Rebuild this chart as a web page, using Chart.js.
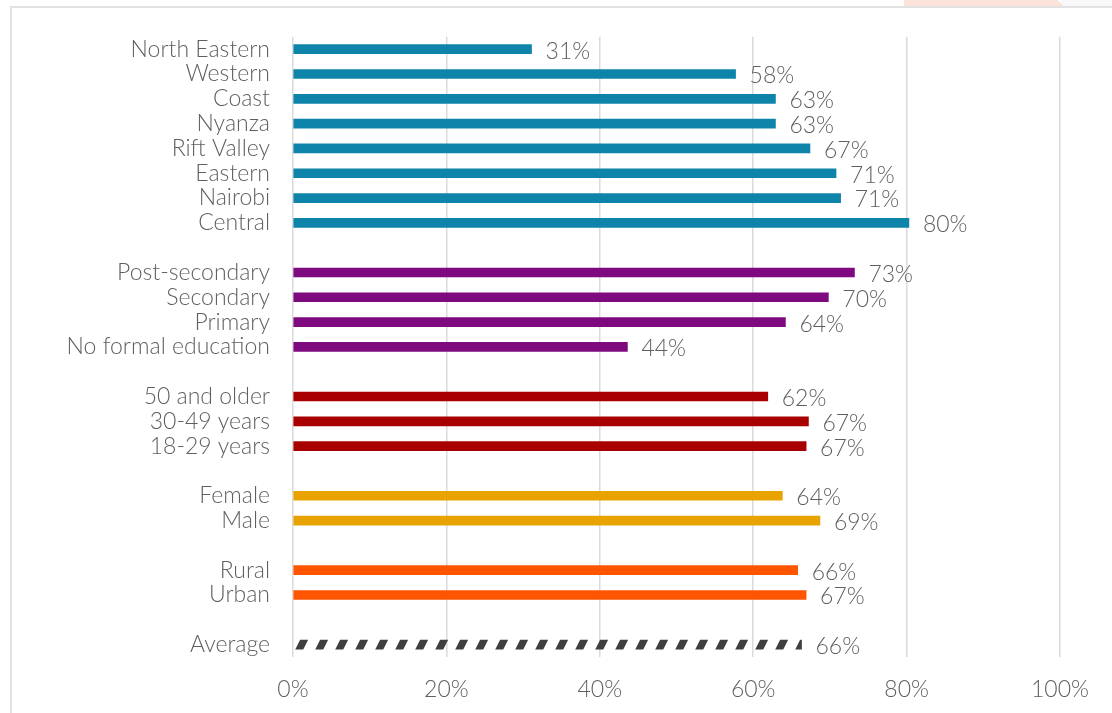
<!DOCTYPE html>
<html>
<head>
<meta charset="utf-8">
<title>Share by region, education, age, gender and location</title>
<script src="https://cdn.jsdelivr.net/npm/chart.js@4/dist/chart.umd.min.js"></script>
<style>
    html, body {
        margin: 0;
        padding: 0;
        background: #ffffff;
        overflow: hidden;
    }
    #stage {
        position: relative;
        width: 1112px;
        height: 713px;
    }
    /* light strip above the frame */
    .top-strip {
        position: absolute;
        left: 1060px;
        top: 0;
        width: 52px;
        height: 7px;
        background: #f8f8f8;
    }
    .top-accent {
        position: absolute;
        left: 904px;
        top: 0;
        width: 160px;
        height: 7px;
        background: #fde3da;
        clip-path: polygon(0 0, 96% 0, 100% 100%, 0 100%);
    }
    .frame {
        position: absolute;
        left: 10px;
        top: 6px;
        right: -4px;
        bottom: -4px;
        border-left: 2px solid #e2e2e2;
        border-top: 2px solid #e2e2e2;
    }
    #chart {
        position: absolute;
        left: 0;
        top: 0;
    }
</style>
</head>
<body>
<div id="stage">
    <div class="top-strip"></div>
    <div class="top-accent"></div>
    <div class="frame"></div>
    <canvas id="chart" width="1112" height="713"></canvas>
</div>

<script>
// -----------------------------------------
// DATA (percent)
// -----------------------------------------
const regionLabels = ["North Eastern", "Western", "Coast", "Nyanza", "Rift Valley", "Eastern", "Nairobi", "Central"];
const regionValues = [31.1, 57.7, 62.9, 62.9, 67.4, 70.8, 71.4, 80.3];

const educationLabels = ["Post-secondary", "Secondary", "Primary", "No formal education"];
const educationValues = [73.2, 69.8, 64.2, 43.6];

const ageLabels = ["50 and older", "30-49 years", "18-29 years"];
const ageValues = [61.9, 67.2, 66.9];

const genderLabels = ["Female", "Male"];
const genderValues = [63.8, 68.7];

const locationLabels = ["Rural", "Urban"];
const locationValues = [65.8, 66.9];

const averageLabels = ["Average"];
const averageValues = [66.3];

const xTicks = [0, 20, 40, 60, 80, 100];

// -----------------------------------------
// STYLE
// -----------------------------------------
const TEXT_COLOR = "#5f5f5f";
const FONT_FAMILY = "Lato, 'Open Sans', 'DejaVu Sans', sans-serif";
const FONT_SIZE = 23;

// diagonal hatch used for the average bar
function makeHatch() {
    const tile = document.createElement("canvas");
    tile.width = 20;
    tile.height = 40;
    const c = tile.getContext("2d");
    c.fillStyle = "#3f3f3f";
    for (let o = -20; o <= 20; o += 20) {
        c.beginPath();
        c.moveTo(o, 40);
        c.lineTo(o + 8, 40);
        c.lineTo(o + 28, 0);
        c.lineTo(o + 20, 0);
        c.closePath();
        c.fill();
    }
    return c.createPattern(tile, "repeat");
}

const groups = [
    { labels: regionLabels, values: regionValues, color: "#0f84aa" },
    { labels: educationLabels, values: educationValues, color: "#7f0a80" },
    { labels: ageLabels, values: ageValues, color: "#a80000" },
    { labels: genderLabels, values: genderValues, color: "#e9a300" },
    { labels: locationLabels, values: locationValues, color: "#ff5400" },
    { labels: averageLabels, values: averageValues, color: makeHatch() }
];

// flatten groups with an empty row between them
const categories = [];
const values = [];
const colors = [];
groups.forEach((g, gi) => {
    if (gi > 0) {
        categories.push("");
        values.push(null);
        colors.push("rgba(0,0,0,0)");
    }
    g.labels.forEach((label, i) => {
        categories.push(label);
        values.push(g.values[i]);
        colors.push(g.color);
    });
});

// value labels at the end of each bar
const barValueLabels = {
    id: "barValueLabels",
    afterDatasetsDraw(chart) {
        const ctx = chart.ctx;
        const meta = chart.getDatasetMeta(0);
        ctx.save();
        ctx.font = `300 ${FONT_SIZE}px ${FONT_FAMILY}`;
        ctx.fillStyle = TEXT_COLOR;
        ctx.textAlign = "left";
        ctx.textBaseline = "middle";
        meta.data.forEach((bar, i) => {
            const v = values[i];
            if (v === null) return;
            ctx.fillText(Math.round(v) + "%", bar.x + 14, bar.y + 2);
        });
        ctx.restore();
    }
};

new Chart(document.getElementById("chart"), {
    type: "bar",
    data: {
        labels: categories,
        datasets: [{
            data: values,
            backgroundColor: colors,
            borderWidth: 0,
            barThickness: 9
        }]
    },
    options: {
        indexAxis: "y",
        responsive: false,
        animation: false,
        devicePixelRatio: 1,
        layout: {
            padding: { top: 36, right: 52, left: 0, bottom: 0 }
        },
        plugins: {
            legend: { display: false },
            tooltip: { enabled: false }
        },
        scales: {
            x: {
                min: 0,
                max: 100,
                afterBuildTicks: scale => {
                    scale.ticks = xTicks.map(v => ({ value: v }));
                },
                afterFit: scale => { scale.height = 56; },
                grid: {
                    color: "#dadada",
                    lineWidth: 1.5,
                    drawTicks: false
                },
                border: { display: false },
                ticks: {
                    padding: 19,
                    color: TEXT_COLOR,
                    font: { family: FONT_FAMILY, size: FONT_SIZE, weight: "300" },
                    callback: value => value + "%"
                }
            },
            y: {
                afterFit: scale => { scale.width = 293; },
                grid: { display: false, drawTicks: false },
                border: { display: false },
                ticks: {
                    padding: 23,
                    autoSkip: false,
                    color: TEXT_COLOR,
                    font: { family: FONT_FAMILY, size: FONT_SIZE, weight: "300" }
                }
            }
        }
    },
    plugins: [barValueLabels]
});
</script>
</body>
</html>
